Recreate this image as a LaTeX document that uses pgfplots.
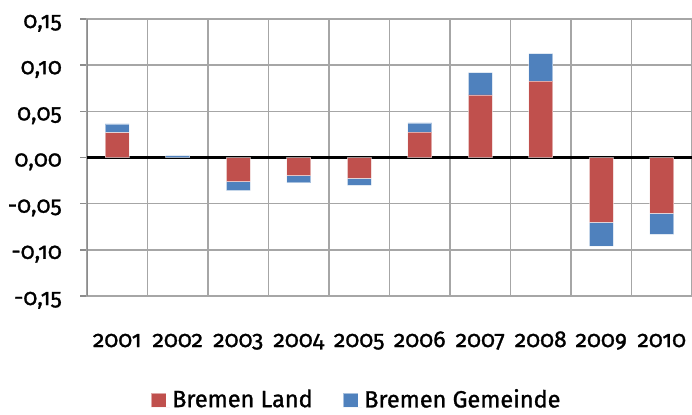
\documentclass[border=0pt]{standalone}
\usepackage{pgfplots}
\pgfplotsset{compat=1.18}
\usepackage{fontspec}
\setmainfont{Fira Sans}[Numbers=OldStyle]
\newfontfamily\medfont{Fira Sans}[Numbers=OldStyle, RawFeature={embolden=1.2}]
\definecolor{landred}{HTML}{C0504D}
\definecolor{gemblue}{HTML}{4F81BD}
\definecolor{gridgray}{HTML}{A6A6A6}
\definecolor{axgray}{HTML}{8C8C8C}
\begin{document}
\begin{tikzpicture}
\begin{axis}[
  at={(0,0)}, anchor=south west,
  scale only axis,
  width=605bp, height=277bp,
  ybar stacked,
  bar width=24bp,
  xmin=0.5, xmax=10.5,
  ymin=-0.15, ymax=0.15,
  ytick={-0.15,-0.10,...,0.16},
  xtick={1,...,10},
  xticklabels={2001,2002,2003,2004,2005,2006,2007,2008,2009,2010},
  minor xtick={0.5,1.5,...,10.5},
  xminorgrids, ymajorgrids,
  grid style={gridgray, line width=1.5bp},
  minor grid style={gridgray, line width=1.5bp},
  axis line style={gridgray, line width=1.5bp},
  tick align=outside,
  major tick length=7bp,
  minor tick length=0pt,
  ytick style={axgray, line width=1.5bp},
  xtick style={draw=none},
  /pgf/number format/.cd, assume math mode=true, use comma, fixed, fixed zerofill, precision=2,
  /pgfplots/.cd,
  tick label style={font=\medfont\fontsize{23bp}{27bp}\selectfont},
  xticklabel style={anchor=base, yshift=-44bp},
  yticklabel style={anchor=base east, inner sep=0pt, xshift=-18bp, yshift=-9bp},
  legend columns=2,
  legend style={draw=none, at={(0.4455,-0.372)}, anchor=center,
    font=\medfont\fontsize{23.5bp}{27bp}\selectfont,
    /tikz/every even column/.append style={column sep=28bp}},
  legend image code/.code={\fill[#1] (0bp,-8bp) rectangle (15bp,6bp);
    \path (0bp,-8bp) -- (19bp,-8bp);},
]
\addplot[fill=landred, draw=white, draw opacity=0.5, line width=0.6bp] coordinates {
  (1,0.0270) (2,0.0000) (3,-0.0260) (4,-0.0195) (5,-0.0227)
  (6,0.0274) (7,0.0678) (8,0.0826) (9,-0.0703) (10,-0.0606)};
\addplot[fill=gemblue, draw=white, draw opacity=0.5, line width=0.6bp] coordinates {
  (1,0.0093) (2,0.0020) (3,-0.0100) (4,-0.0079) (5,-0.0076)
  (6,0.0100) (7,0.0240) (8,0.0300) (9,-0.0256) (10,-0.0227)};
\legend{Bremen Land, Bremen Gemeinde}
\draw[black, line width=2.8bp] (axis cs:0.5,0) -- (axis cs:10.5,0);
\draw[axgray, line width=1.5bp] (axis cs:0.5,-0.15) -- (axis cs:0.5,0.15);
\end{axis}
\pgfresetboundingbox
\path (-87bp,-119bp) rectangle (605bp,296bp);
\end{tikzpicture}
\end{document}
